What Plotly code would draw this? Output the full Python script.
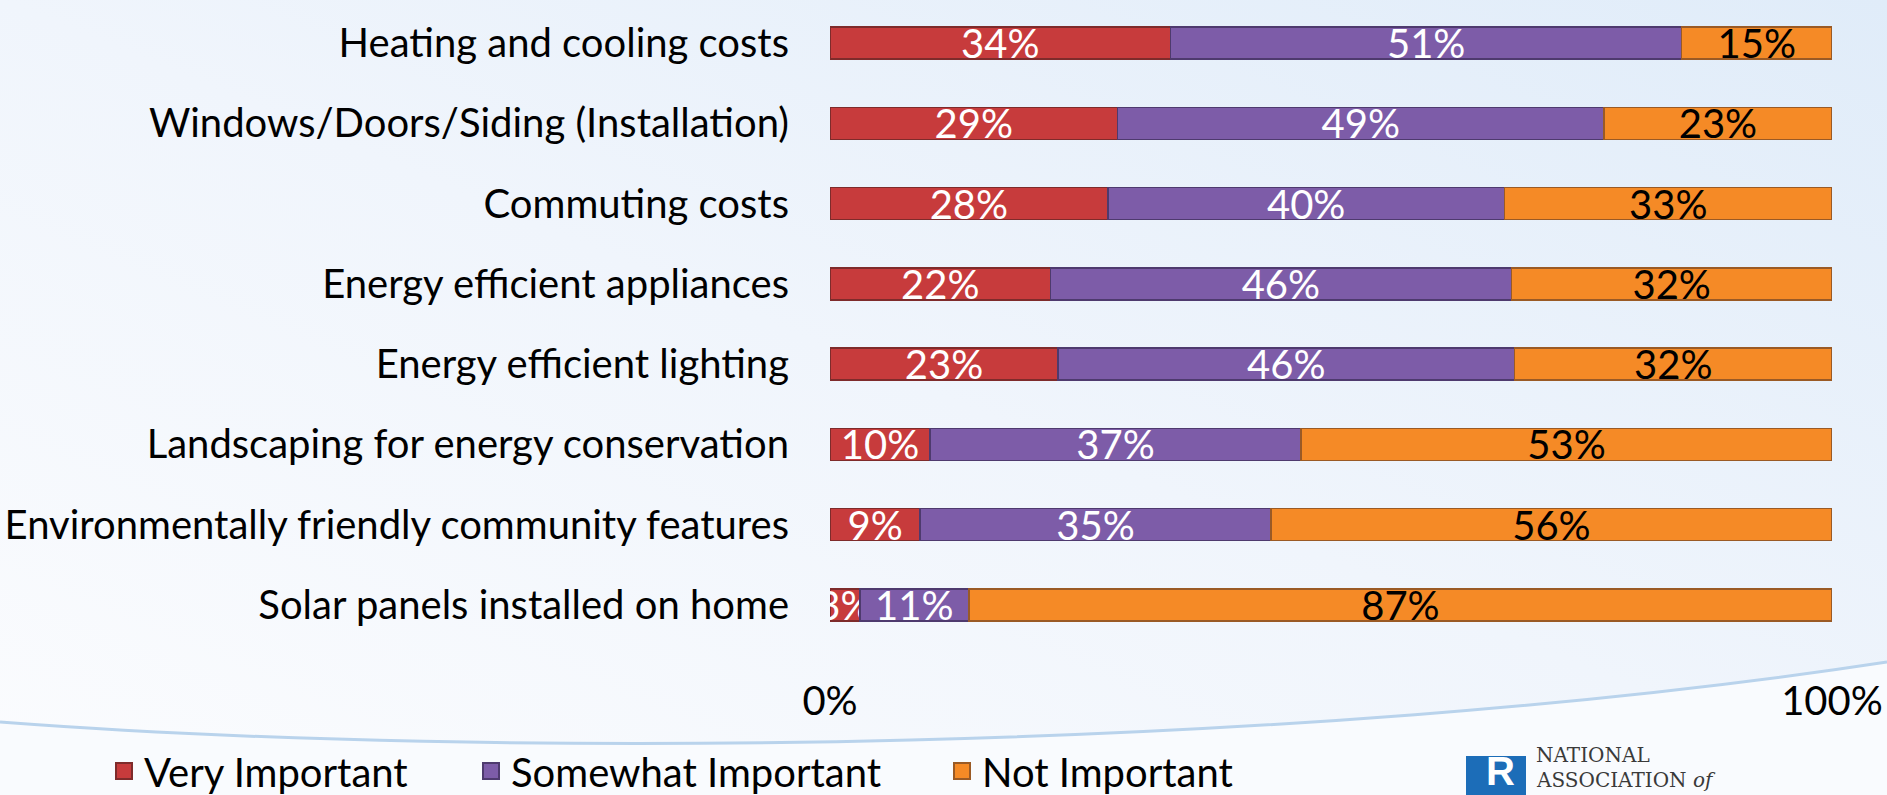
import base64
import plotly.graph_objects as go

categories = [
    "Heating and cooling costs",
    "Windows/Doors/Siding (Installation)",
    "Commuting costs",
    "Energy efficient appliances",
    "Energy efficient lighting",
    "Landscaping for energy conservation",
    "Environmentally friendly community features",
    "Solar panels installed on home",
]
very_important = [34, 29, 28, 22, 23, 10, 9, 3]
somewhat_important = [51, 49, 40, 46, 46, 37, 35, 11]
not_important = [15, 23, 33, 32, 32, 53, 56, 87]
series_names = ["Very Important", "Somewhat Important", "Not Important"]
tick_vals = [0, 100]
tick_text = ["0%", "100%"]

W, H = 1887, 795
L, R, T, B = 830, 55, 3, 150
PW, PH = W - L - R, H - T - B


def px2x(px):
    return (px - L) / PW


def py2y(py):
    return 1 - (py - T) / PH


FONT = "Lato, Carlito, Calibri, sans-serif"

fig = go.Figure()
series = [very_important, somewhat_important, not_important]
colors = ["#C73B3C", "#7D5CA8", "#F58A26"]
lines = ["#7E2B2B", "#4E3A6E", "#9A5A25"]
text_colors = ["white", "white", "black"]
legends = ["legend", "legend2", "legend3"]
for vals, name, col, lc, tc, lg in zip(series, series_names, colors, lines, text_colors, legends):
    fig.add_trace(go.Bar(
        y=categories, x=vals, name=name, orientation="h",
        marker=dict(color=col, line=dict(color=lc, width=1.5)),
        text=[f"{v}%" for v in vals], textposition="inside",
        insidetextanchor="middle", textangle=0,
        textfont=dict(family=FONT, size=40, color=tc),
        showlegend=False, hoverinfo="skip", cliponaxis=True,
    ))
# legend entries (square swatches like the original)
for name, col, lc, lg in zip(series_names, colors, lines, legends):
    fig.add_trace(go.Scatter(
        x=[None], y=[None], mode="markers", name=name, legend=lg,
        marker=dict(symbol="square", size=16, color=col, line=dict(color=lc, width=2)),
        hoverinfo="skip",
    ))

svg = f'''<svg xmlns="http://www.w3.org/2000/svg" width="{W}" height="{H}" viewBox="0 0 {W} {H}">
<defs><linearGradient id="g" x1="0" y1="1" x2="1" y2="0">
<stop offset="0" stop-color="#FBFCFE"/><stop offset="0.5" stop-color="#F0F5FC"/><stop offset="1" stop-color="#E0ECF9"/>
</linearGradient></defs>
<rect width="{W}" height="{H}" fill="url(#g)"/>
<path d="M0,722 C500,760 1300,752 1887,662 L1887,795 L0,795 Z" fill="#F9FBFE"/>
<path d="M0,722 C500,760 1300,752 1887,662" fill="none" stroke="#B9D3EC" stroke-width="3"/>
</svg>'''
src = "data:image/svg+xml;base64," + base64.b64encode(svg.encode()).decode()

fig.update_layout(
    width=W, height=H,
    margin=dict(l=L, r=R, t=T, b=B, pad=0, autoexpand=False),
    barmode="stack", barnorm="percent", bargap=0.6,
    paper_bgcolor="white", plot_bgcolor="rgba(0,0,0,0)",
    font=dict(family=FONT, size=40, color="black"),
    images=[dict(source=src, xref="paper", yref="paper", x=px2x(0), y=py2y(0),
                 sizex=W / PW, sizey=H / PH, xanchor="left", yanchor="top",
                 sizing="stretch", layer="below")],
    xaxis=dict(range=[0, 100], tickvals=tick_vals, ticktext=tick_text,
               showgrid=True, gridcolor="#D3D7DC", gridwidth=2, zeroline=False,
               showline=False, ticks="", ticklabelstandoff=29,
               tickfont=dict(family=FONT, size=40, color="black"), fixedrange=True),
    yaxis=dict(autorange="reversed", ticks="", showgrid=False, showline=False,
               ticklabelstandoff=40, tickfont=dict(family=FONT, size=40, color="black")),
    showlegend=True,
    uniformtext=dict(minsize=40, mode="show"),
)
leg_common = dict(orientation="h", bgcolor="rgba(0,0,0,0)", yanchor="middle",
                  xanchor="left", font=dict(family=FONT, size=40, color="black"))
fig.update_layout(
    legend=dict(x=px2x(104), y=py2y(771), **leg_common),
    legend2=dict(x=px2x(471), y=py2y(771), **leg_common),
    legend3=dict(x=px2x(942), y=py2y(771), **leg_common),
)

# logo
fig.add_shape(type="rect", xref="paper", yref="paper",
              x0=px2x(1466), x1=px2x(1526), y0=py2y(756), y1=py2y(800),
              fillcolor="#1C6DB8", line=dict(width=0), layer="above")
fig.add_annotation(text="<b>R</b>", xref="paper", yref="paper", x=px2x(1500), y=py2y(795),
                   xanchor="center", yanchor="bottom", showarrow=False,
                   font=dict(family="Liberation Sans", size=40, color="white"))
fig.add_annotation(text="NATIONAL", xref="paper", yref="paper", x=px2x(1534), y=py2y(755),
                   xanchor="left", yanchor="middle", showarrow=False,
                   font=dict(family="DejaVu Serif", size=20, color="#3A3A3A"))
fig.add_annotation(text="ASSOCIATION <i>of</i>", xref="paper", yref="paper", x=px2x(1534), y=py2y(780),
                   xanchor="left", yanchor="middle", showarrow=False,
                   font=dict(family="DejaVu Serif", size=20, color="#3A3A3A"))

fig.write_html("out.html")
